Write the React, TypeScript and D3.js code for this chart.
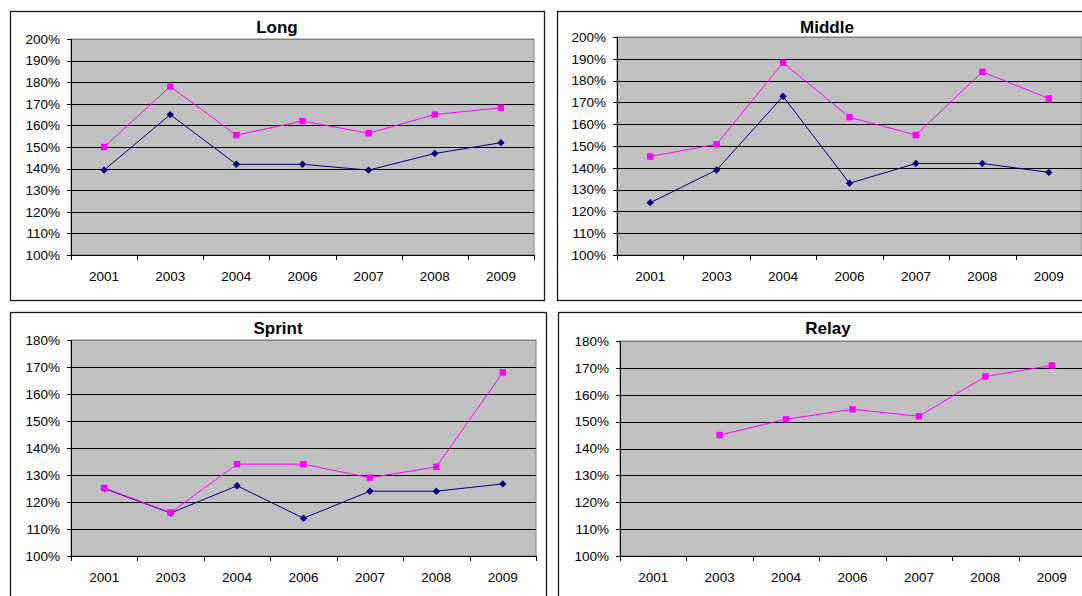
import React from 'react';
import * as d3 from 'd3';

// categories and values
const years = ['2001', '2003', '2004', '2006', '2007', '2008', '2009'];

const longPink = [150, 178, 155.5, 162, 156.4, 165, 168.2];
const longNavy = [139.3, 165, 142, 142, 139.3, 147, 152];

const middlePink = [145.2, 150.8, 188.2, 163.2, 155, 184, 171.8];
const middleNavy = [124, 139, 172.8, 132.9, 142, 142, 137.9];

const sprintPink = [125.2, 116.1, 134, 134, 129, 133, 168];
const sprintNavy = [125, 115.9, 126, 114, 124, 124, 126.7];

const relayPink: (number | null)[] = [null, 145, 150.9, 154.6, 152, 166.8, 170.9];
const relayNavy: (number | null)[] = [null, null, null, null, null, null, null];

const pinkColor = '#FF00FF';
const navyColor = '#000080';
const font = '"Liberation Sans", Arial, sans-serif';

interface PanelProps {
  title: string;
  pink: (number | null)[];
  navy: (number | null)[];
  yMax: number;
  x: number;
  y: number;
  w: number;
  h: number;
  plotLeft: number;
  plotTop: number;
  plotW: number;
  plotH: number;
}

const Panel = ({ title, pink, navy, yMax, x, y, w, h, plotLeft, plotTop, plotW, plotH }: PanelProps) => {
  const xBand = d3.scaleBand<string>().domain(years).range([plotLeft, plotLeft + plotW]);
  const yScale = d3.scaleLinear().domain([1, yMax / 100]).range([plotTop + plotH, plotTop]);
  const yTicks = d3.range(100, yMax + 1, 10).map(v => v / 100);
  const cx = (i: number) => (xBand(years[i]) ?? 0) + xBand.bandwidth() / 2;

  const line = d3.line<number | null>()
    .defined(d => d != null)
    .x((_, i) => cx(i))
    .y(d => yScale((d as number) / 100));

  const bottom = plotTop + plotH;
  const boundaries = years.map(yr => xBand(yr) ?? 0).concat([plotLeft + plotW]);

  return (
    <g>
      <rect x={x + 0.5} y={y + 0.5} width={w} height={h} fill="#fff" stroke="#1a1a1a" strokeWidth={1.3} />
      <text x={x + w / 2} y={y + 22} textAnchor="middle" fontFamily={font} fontWeight="bold" fontSize={17}>
        {title}
      </text>

      {/* plot area */}
      <rect x={plotLeft} y={plotTop} width={plotW} height={plotH} fill="#C0C0C0" stroke="#808080" strokeWidth={1} />

      {/* gridlines */}
      {yTicks.slice(1).map(t => (
        <line key={t} x1={plotLeft} x2={plotLeft + plotW} y1={Math.round(yScale(t)) + 0.5} y2={Math.round(yScale(t)) + 0.5}
          stroke={t === yMax / 100 ? '#808080' : '#000'} strokeWidth={1} />
      ))}

      {/* y axis */}
      <line x1={plotLeft + 0.5} x2={plotLeft + 0.5} y1={plotTop} y2={bottom + 0.5} stroke="#000" />
      {yTicks.map(t => (
        <g key={'yt' + t}>
          <line x1={plotLeft - 4} x2={plotLeft} y1={Math.round(yScale(t)) + 0.5} y2={Math.round(yScale(t)) + 0.5} stroke="#000" />
          <text x={plotLeft - 11} y={yScale(t)} dy="0.36em" textAnchor="end" fontFamily={font} fontSize={13.5}>
            {d3.format('.0%')(t)}
          </text>
        </g>
      ))}

      {/* x axis */}
      <line x1={plotLeft} x2={plotLeft + plotW} y1={Math.round(bottom) + 0.5} y2={Math.round(bottom) + 0.5} stroke="#000" />
      {boundaries.map((b, i) => (
        <line key={'xt' + i} x1={Math.round(b) + 0.5} x2={Math.round(b) + 0.5} y1={bottom} y2={bottom + 5} stroke="#000" />
      ))}
      {years.map((yr, i) => (
        <text key={yr} x={cx(i)} y={bottom + 26} textAnchor="middle" fontFamily={font} fontSize={13.5}>
          {yr}
        </text>
      ))}

      {/* navy series with diamonds */}
      <path d={line(navy) ?? ''} fill="none" stroke={navyColor} strokeWidth={1} />
      {navy.map((v, i) => v == null ? null : (
        <rect key={'n' + i} x={cx(i) - 2.6} y={yScale(v / 100) - 2.6} width={5.2} height={5.2}
          fill={navyColor} transform={`rotate(45 ${cx(i)} ${yScale(v / 100)})`} />
      ))}

      {/* pink series with squares */}
      <path d={line(pink) ?? ''} fill="none" stroke={pinkColor} strokeWidth={1} />
      {pink.map((v, i) => v == null ? null : (
        <rect key={'p' + i} x={cx(i) - 3.2} y={yScale(v / 100) - 3.2} width={6.4} height={6.4} fill={pinkColor} />
      ))}
    </g>
  );
};

const App = () => (
  <svg width={1082} height={596} style={{ position: 'absolute', left: 0, top: 0, background: '#fff' }}>
    <Panel title="Long" pink={longPink} navy={longNavy} yMax={200}
      x={10} y={11} w={534} h={289} plotLeft={71} plotTop={39} plotW={463} plotH={216} />
    <Panel title="Middle" pink={middlePink} navy={middleNavy} yMax={200}
      x={557} y={11} w={540} h={289} plotLeft={617} plotTop={37} plotW={465} plotH={218} />
    <Panel title="Sprint" pink={sprintPink} navy={sprintNavy} yMax={180}
      x={10} y={312} w={536} h={300} plotLeft={71} plotTop={340} plotW={465} plotH={216} />
    <Panel title="Relay" pink={relayPink} navy={relayNavy} yMax={180}
      x={558} y={312} w={540} h={300} plotLeft={620} plotTop={341} plotW={465} plotH={215} />
  </svg>
);

export default App;
